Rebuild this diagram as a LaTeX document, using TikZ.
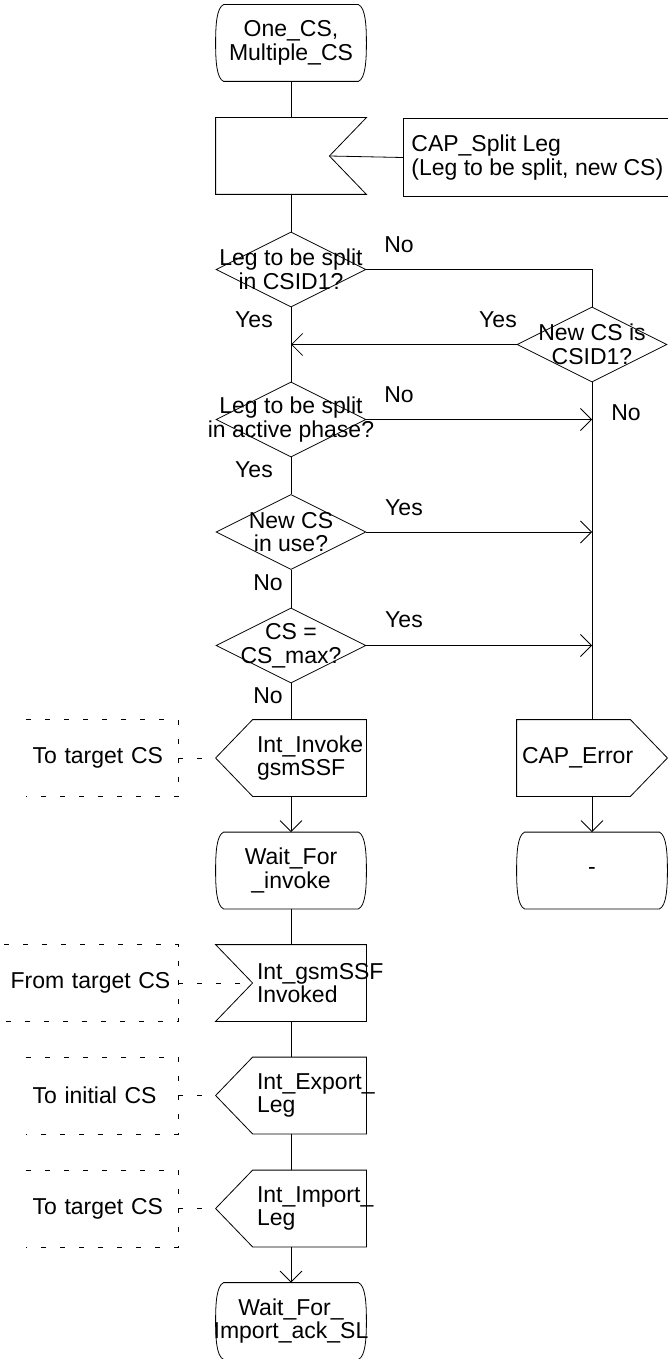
\documentclass[tikz,border=0pt]{standalone}
\usepackage{fontspec}
\setmainfont{Liberation Sans}
\usetikzlibrary{arrows.meta,shapes.geometric}

\tikzset{every picture/.style={line width=0.8pt}}
\tikzset{
  >={Straight Barb[length=11pt,width=22pt]},
  every node/.style={font=\fontsize{23}{23.5}\selectfont},
  sdlbox/.style={inner sep=0pt, minimum width=150pt, minimum height=76pt},
  decbox/.style={diamond, draw, inner sep=0pt, minimum width=150pt, minimum height=75pt},
  sdltext/.style={align=center, inner sep=0pt},
  sigtext/.style={align=left, inner sep=0pt, anchor=west},
  cmtbox/.style={inner ysep=0pt, inner xsep=6pt, minimum height=76pt, align=left},
  cmtline/.style={dash pattern=on 5pt off 14pt},
  yn/.style={inner sep=0pt},
}

% state symbol: bulging sides
\newcommand{\sdlstate}[1]{%
  \draw ([xshift=8pt]#1.north west) -- ([xshift=-8pt]#1.north east)
    .. controls ([xshift=-1pt,yshift=-3pt]#1.north east) and ([yshift=18pt]#1.east) .. (#1.east)
    .. controls ([yshift=-18pt]#1.east) and ([xshift=-1pt,yshift=3pt]#1.south east) .. ([xshift=-8pt]#1.south east)
    -- ([xshift=8pt]#1.south west)
    .. controls ([xshift=1pt,yshift=3pt]#1.south west) and ([yshift=-18pt]#1.west) .. (#1.west)
    .. controls ([yshift=18pt]#1.west) and ([xshift=1pt,yshift=-3pt]#1.north west) .. cycle;}
% input signal, notch right / left
\newcommand{\sdlinR}[1]{\draw (#1.north west) -- (#1.north east) -- ([xshift=-37pt]#1.east) -- (#1.south east) -- (#1.south west) -- cycle;}
\newcommand{\sdlinL}[1]{\draw (#1.north west) -- (#1.north east) -- (#1.south east) -- (#1.south west) -- ([xshift=37pt]#1.west) -- cycle;}
% output signal, point left / right
\newcommand{\sdloutL}[1]{\draw ([xshift=37pt]#1.north west) -- (#1.north east) -- (#1.south east) -- ([xshift=37pt]#1.south west) -- (#1.west) -- cycle;}
\newcommand{\sdloutR}[1]{\draw (#1.north west) -- ([xshift=-37pt]#1.north east) -- (#1.east) -- ([xshift=-37pt]#1.south east) -- (#1.south west) -- cycle;}
% dashed comment bracket
\newcommand{\sdlcmt}[1]{\draw[cmtline] (#1.north west) -- (#1.north east) -- (#1.south east) -- (#1.south west);}

\begin{document}
\begin{tikzpicture}[x=1pt,y=1pt]
\useasboundingbox (0,0) rectangle (667,-1359);

% main column
\node[sdlbox] (start) at (291,-43) {};
\sdlstate{start}
\node[sdltext] (startT) at (start) {One\_CS,\\Multiple\_CS};

\node[sdlbox] (split) at (291,-156) {};
\sdlinR{split}
\node[cmtbox, inner xsep=8pt, minimum height=77pt, anchor=west] (splitC) at (403,-157.5) {CAP\_Split Leg\\(Leg to be split, new CS)};
\draw (splitC.north east) -- (splitC.north west) -- (splitC.south west) -- (splitC.south east);

\node[decbox] (d1) at (291,-269.5) {};
\node[sdltext] (d1T) at (d1) {Leg to be split\\in CSID1?};
\node[decbox] (d2) at (592,-344.5) {};
\node[sdltext] (d2T) at (d2) {New CS is\\CSID1?};
\node[decbox] (d3) at (291,-419.5) {};
\node[sdltext] (d3T) at (d3) {Leg to be split\\in active phase?};
\node[decbox] (d4) at (291,-532) {};
\node[sdltext] (d4T) at (d4) {New CS\\in use?};
\node[decbox] (d5) at (291,-645.5) {};
\node[sdltext] (d5T) at (d5) {CS =\\CS\_max?};

\node[sdlbox] (inv) at (291,-758) {};
\sdloutL{inv}
\node[sigtext] (invT) at ([xshift=41pt]inv.west) {Int\_Invoke\\gsmSSF};
\node[cmtbox, text width=139pt, anchor=east] (invC) at (178,-758) {To target CS};
\sdlcmt{invC}

\node[sdlbox] (wait1) at (291,-870.5) {};
\sdlstate{wait1}
\node[sdltext] (wait1T) at (wait1) {Wait\_For\\\_invoke};

\node[sdlbox] (invd) at (291,-983) {};
\sdlinL{invd}
\node[sigtext] (invdT) at ([xshift=41pt]invd.west) {Int\_gsmSSF\\Invoked};
\node[cmtbox, text width=161pt, anchor=east] (invdC) at (178,-983) {From target CS};
\sdlcmt{invdC}

\node[sdlbox] (exp) at (291,-1095.5) {};
\sdloutL{exp}
\node[sigtext] (expT) at ([xshift=41pt]exp.west) {Int\_Export\_\\Leg};
\node[cmtbox, text width=139pt, anchor=east] (expC) at (178,-1095.5) {To initial CS};
\sdlcmt{expC}

\node[sdlbox] (imp) at (291,-1208.5) {};
\sdloutL{imp}
\node[sigtext] (impT) at ([xshift=41pt]imp.west) {Int\_Import\_\\Leg};
\node[cmtbox, text width=139pt, anchor=east] (impC) at (178,-1208.5) {To target CS};
\sdlcmt{impC}

\node[sdlbox] (wait2) at (291,-1321) {};
\sdlstate{wait2}
\node[sdltext] (wait2T) at (wait2) {Wait\_For\_\\Import\_ack\_SL};

% error branch
\node[sdlbox] (err) at (592,-758) {};
\sdloutR{err}
\node[sigtext] (errT) at ([xshift=5pt]err.west) {CAP\_Error};
\node[sdlbox] (nul) at (592,-870.5) {};
\sdlstate{nul}
\node[sdltext] (nulT) at (nul) {-};

% answers
\node[yn] (d1no) at (399,-245) {No};
\node[yn] (d1yes) at (254,-320) {Yes};
\node[yn] (d2yes) at (498,-320) {Yes};
\node[yn] (d2no) at (626,-413) {No};
\node[yn] (d3no) at (399,-395) {No};
\node[yn] (d3yes) at (254,-470) {Yes};
\node[yn] (d4yes) at (404,-508) {Yes};
\node[yn] (d4no) at (268,-583) {No};
\node[yn] (d5yes) at (404,-620) {Yes};
\node[yn] (d5no) at (268,-696) {No};

% connectors
\draw (start.south) -- (split.north);
\draw ([xshift=-37pt]split.east) -- (splitC.west);
\draw (split.south) -- (d1.north);
\draw (d1.south) -- (d3.north);
\draw (d1.east) -| (d2.north);
\draw[->] (d2.west) -- (d2.west -| d1.south);
\draw (d2.south) -- (err.north);
\draw[->] (d3.east) -- (d3.east -| d2.south);
\draw (d3.south) -- (d4.north);
\draw[->] (d4.east) -- (d4.east -| d2.south);
\draw (d4.south) -- (d5.north);
\draw[->] (d5.east) -- (d5.east -| d2.south);
\draw (d5.south) -- (inv.north);
\draw[->] (inv.south) -- (wait1.north);
\draw (wait1.south) -- (invd.north);
\draw (invd.south) -- (exp.north);
\draw (exp.south) -- (imp.north);
\draw[->] (imp.south) -- (wait2.north);
\draw[->] (err.south) -- (nul.north);
\draw[cmtline] (invC.east) -- (inv.west);
\draw[cmtline] (invdC.east) -- ([xshift=37pt]invd.west);
\draw[cmtline] (expC.east) -- (exp.west);
\draw[cmtline] (impC.east) -- (imp.west);

\end{tikzpicture}
\end{document}
